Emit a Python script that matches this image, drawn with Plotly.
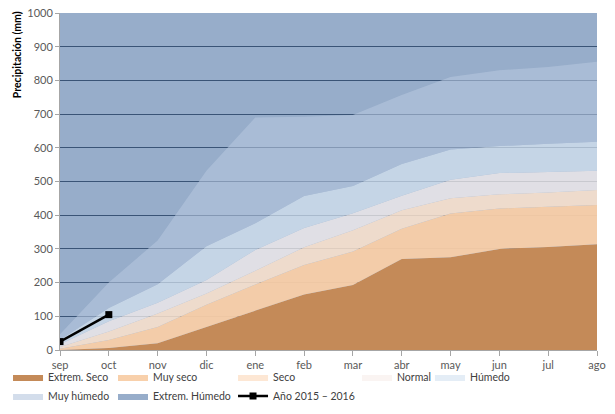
import plotly.graph_objects as go

months = ["sep", "oct", "nov", "dic", "ene", "feb", "mar", "abr", "may", "jun", "jul", "ago"]

# Upper limit (mm) of each class, accumulated precipitation
extrem_seco_top = [0, 6, 20, 68, 118, 165, 193, 270, 275, 300, 306, 314]
muy_seco_top = [4, 30, 68, 134, 194, 252, 292, 360, 405, 420, 425, 430]
seco_top = [9, 55, 108, 168, 235, 305, 355, 415, 450, 462, 467, 475]
normal_top = [17, 85, 140, 208, 297, 362, 406, 458, 505, 525, 528, 532]
humedo_top = [30, 125, 195, 308, 376, 457, 487, 552, 595, 605, 612, 618]
muy_humedo_top = [47, 200, 325, 532, 690, 692, 697, 757, 810, 830, 840, 855]
extrem_humedo_top = [1000, 1000, 1000, 1000, 1000, 1000, 1000, 1000, 1000, 1000, 1000, 1000]

anio_months = ["sep", "oct"]
anio_values = [25, 105]

y_ticks = [0, 100, 200, 300, 400, 500, 600, 700, 800, 900, 1000]

FONT = "Lato"

fig = go.Figure()

# name, values, fill colour, fill mode, legend column
bands = [
    ("Extrem. Seco", extrem_seco_top, "rgb(196,138,88)", "tozeroy", "legend"),
    ("Muy seco", muy_seco_top, "rgba(248,206,166,0.95)", "tonexty", "legend2"),
    ("Seco", seco_top, "rgba(253,227,204,0.85)", "tonexty", "legend3"),
    ("Normal", normal_top, "rgba(248,240,237,0.75)", "tonexty", "legend4"),
    ("Húmedo", humedo_top, "rgba(217,229,242,0.7)", "tonexty", "legend5"),
    ("Muy húmedo", muy_humedo_top, "rgba(181,198,222,0.6)", "tonexty", "legend"),
]

# Extreme wet band drawn first as the backdrop of the whole chart
fig.add_trace(go.Scatter(
    x=months, y=extrem_humedo_top, name="Extrem. Húmedo", mode="lines",
    line=dict(width=0), fill="tozeroy", fillcolor="rgba(47,91,149,0.5)",
    legend="legend2", legendrank=7, hoverinfo="skip"))

for rank, (name, vals, color, fill, leg) in enumerate(bands, start=1):
    fig.add_trace(go.Scatter(
        x=months, y=vals, name=name, mode="lines",
        line=dict(width=0), fill=fill, fillcolor=color,
        legend=leg, legendrank=rank, hoverinfo="skip"))

fig.add_trace(go.Scatter(
    x=anio_months, y=anio_values, name="Año 2015 – 2016", mode="lines+markers",
    line=dict(color="black", width=2.5),
    marker=dict(symbol="square", size=7, color="black"),
    legend="legend3", legendrank=8))


def legend_col(xpos):
    return dict(
        orientation="v", traceorder="normal",
        x=xpos, xanchor="left", y=-0.037, yanchor="top",
        itemwidth=30, tracegroupgap=0,
        font=dict(family=FONT, size=10.5, color="#404040"),
        bgcolor="rgba(0,0,0,0)",
    )


fig.update_layout(
    width=615, height=414,
    margin=dict(l=60, r=18, t=13, b=64, autoexpand=False),
    paper_bgcolor="white", plot_bgcolor="white",
    font=dict(family=FONT, size=11, color="#404040"),
    showlegend=True,
    legend=legend_col(-0.0968),
    legend2=legend_col(0.0987),
    legend3=legend_col(0.3222),
    legend4=legend_col(0.5531),
    legend5=legend_col(0.6890),
    xaxis=dict(
        type="category", categoryorder="array", categoryarray=months,
        range=[0, 11], showgrid=False, zeroline=False,
        showline=True, linecolor="#a6a6a6", linewidth=1,
        ticks="outside", ticklen=5, tickcolor="#a6a6a6",
        tickfont=dict(family=FONT, size=11, color="#595959"),
    ),
    yaxis=dict(
        range=[0, 1000], tickvals=y_ticks, showgrid=True,
        gridcolor="#454d57", gridwidth=1, zeroline=False,
        showline=True, linecolor="#a6a6a6", linewidth=1,
        ticks="outside", ticklen=4, tickcolor="#a6a6a6",
        tickfont=dict(family=FONT, size=11, color="#595959"),
    ),
    annotations=[dict(
        text="<b>Precipitación (mm)</b>", textangle=-90,
        xref="paper", yref="paper", x=-0.08, y=1.01,
        xanchor="center", yanchor="top", showarrow=False,
        font=dict(family=FONT, size=10.5, color="black"),
    )],
)

fig.write_html("out.html", config={"displayModeBar": False},
               post_script="document.body.style.margin='0';")
